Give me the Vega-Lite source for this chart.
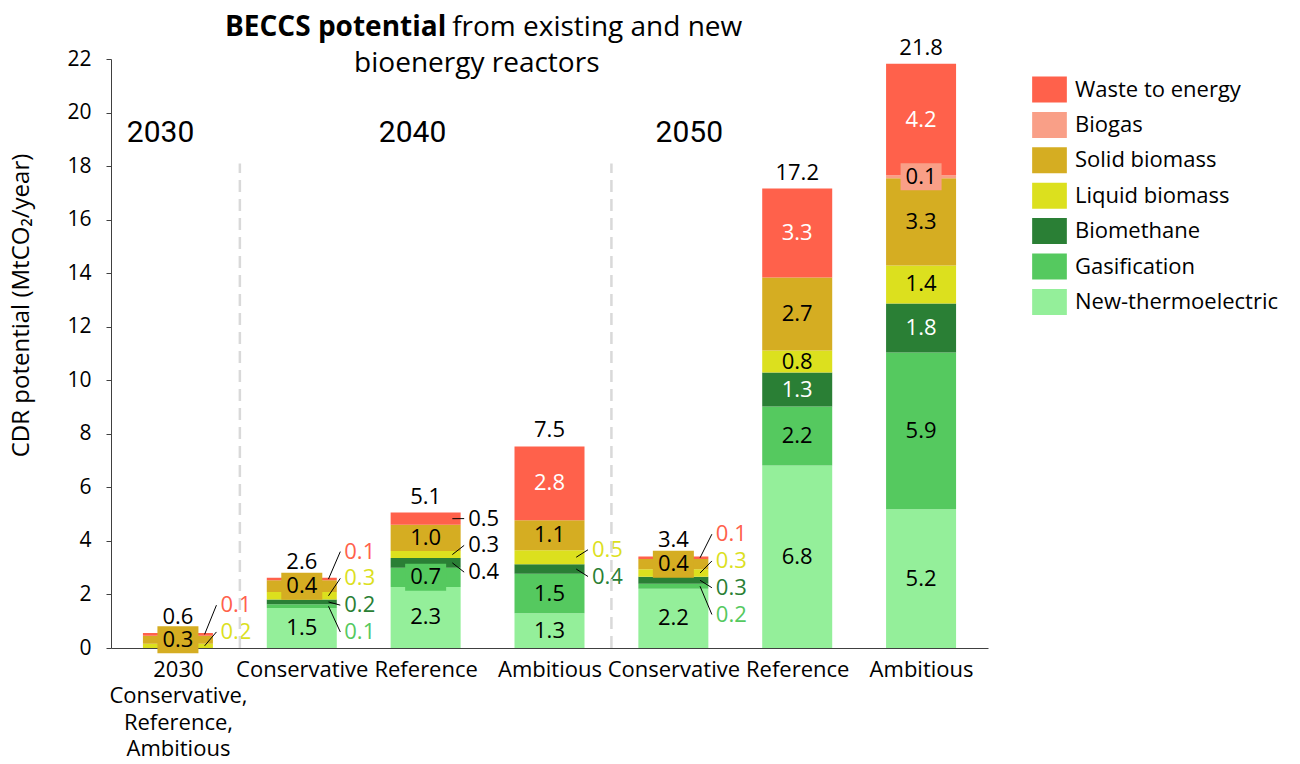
{
  "$schema": "https://vega.github.io/schema/vega-lite/v6.json",
  "width": 877,
  "height": 589,
  "autosize": {"type": "none"},
  "padding": {"left": 111, "top": 59, "right": 312, "bottom": 116},
  "background": "white",
  "config": {
    "font": "Open Sans",
    "view": {"stroke": null},
    "text": {"font": "Open Sans"}
  },
  "data": {
    "values": [
      {"idx": 0, "year": "2030", "scenario": "All", "series": "Liquid biomass", "value": 0.16, "lab": "out"},
      {"idx": 0, "year": "2030", "scenario": "All", "series": "Solid biomass", "value": 0.30, "lab": "in"},
      {"idx": 0, "year": "2030", "scenario": "All", "series": "Waste to energy", "value": 0.10, "lab": "out"},
      {"idx": 1, "year": "2040", "scenario": "Conservative", "series": "New-thermoelectric", "value": 1.49, "lab": "in"},
      {"idx": 1, "year": "2040", "scenario": "Conservative", "series": "Gasification", "value": 0.14, "lab": "out"},
      {"idx": 1, "year": "2040", "scenario": "Conservative", "series": "Biomethane", "value": 0.18, "lab": "out"},
      {"idx": 1, "year": "2040", "scenario": "Conservative", "series": "Liquid biomass", "value": 0.28, "lab": "out"},
      {"idx": 1, "year": "2040", "scenario": "Conservative", "series": "Solid biomass", "value": 0.44, "lab": "in"},
      {"idx": 1, "year": "2040", "scenario": "Conservative", "series": "Waste to energy", "value": 0.09, "lab": "out"},
      {"idx": 2, "year": "2040", "scenario": "Reference", "series": "New-thermoelectric", "value": 2.28, "lab": "in"},
      {"idx": 2, "year": "2040", "scenario": "Reference", "series": "Gasification", "value": 0.72, "lab": "in"},
      {"idx": 2, "year": "2040", "scenario": "Reference", "series": "Biomethane", "value": 0.36, "lab": "out"},
      {"idx": 2, "year": "2040", "scenario": "Reference", "series": "Liquid biomass", "value": 0.26, "lab": "out"},
      {"idx": 2, "year": "2040", "scenario": "Reference", "series": "Solid biomass", "value": 0.98, "lab": "in"},
      {"idx": 2, "year": "2040", "scenario": "Reference", "series": "Waste to energy", "value": 0.46, "lab": "out"},
      {"idx": 3, "year": "2040", "scenario": "Ambitious", "series": "New-thermoelectric", "value": 1.30, "lab": "in"},
      {"idx": 3, "year": "2040", "scenario": "Ambitious", "series": "Gasification", "value": 1.47, "lab": "in"},
      {"idx": 3, "year": "2040", "scenario": "Ambitious", "series": "Biomethane", "value": 0.36, "lab": "out"},
      {"idx": 3, "year": "2040", "scenario": "Ambitious", "series": "Liquid biomass", "value": 0.52, "lab": "out"},
      {"idx": 3, "year": "2040", "scenario": "Ambitious", "series": "Solid biomass", "value": 1.12, "lab": "in"},
      {"idx": 3, "year": "2040", "scenario": "Ambitious", "series": "Waste to energy", "value": 2.76, "lab": "in"},
      {"idx": 4, "year": "2050", "scenario": "Conservative", "series": "New-thermoelectric", "value": 2.21, "lab": "in"},
      {"idx": 4, "year": "2050", "scenario": "Conservative", "series": "Gasification", "value": 0.19, "lab": "out"},
      {"idx": 4, "year": "2050", "scenario": "Conservative", "series": "Biomethane", "value": 0.26, "lab": "out"},
      {"idx": 4, "year": "2050", "scenario": "Conservative", "series": "Liquid biomass", "value": 0.28, "lab": "out"},
      {"idx": 4, "year": "2050", "scenario": "Conservative", "series": "Solid biomass", "value": 0.38, "lab": "in"},
      {"idx": 4, "year": "2050", "scenario": "Conservative", "series": "Waste to energy", "value": 0.10, "lab": "out"},
      {"idx": 5, "year": "2050", "scenario": "Reference", "series": "New-thermoelectric", "value": 6.82, "lab": "in"},
      {"idx": 5, "year": "2050", "scenario": "Reference", "series": "Gasification", "value": 2.20, "lab": "in"},
      {"idx": 5, "year": "2050", "scenario": "Reference", "series": "Biomethane", "value": 1.27, "lab": "in"},
      {"idx": 5, "year": "2050", "scenario": "Reference", "series": "Liquid biomass", "value": 0.82, "lab": "in"},
      {"idx": 5, "year": "2050", "scenario": "Reference", "series": "Solid biomass", "value": 2.73, "lab": "in"},
      {"idx": 5, "year": "2050", "scenario": "Reference", "series": "Waste to energy", "value": 3.32, "lab": "in"},
      {"idx": 6, "year": "2050", "scenario": "Ambitious", "series": "New-thermoelectric", "value": 5.18, "lab": "in"},
      {"idx": 6, "year": "2050", "scenario": "Ambitious", "series": "Gasification", "value": 5.86, "lab": "in"},
      {"idx": 6, "year": "2050", "scenario": "Ambitious", "series": "Biomethane", "value": 1.83, "lab": "in"},
      {"idx": 6, "year": "2050", "scenario": "Ambitious", "series": "Liquid biomass", "value": 1.42, "lab": "in"},
      {"idx": 6, "year": "2050", "scenario": "Ambitious", "series": "Solid biomass", "value": 3.26, "lab": "in"},
      {"idx": 6, "year": "2050", "scenario": "Ambitious", "series": "Biogas", "value": 0.11, "lab": "in"},
      {"idx": 6, "year": "2050", "scenario": "Ambitious", "series": "Waste to energy", "value": 4.16, "lab": "in"}
    ]
  },
  "transform": [
    {"calculate": "indexof(['New-thermoelectric','Gasification','Biomethane','Liquid biomass','Solid biomass','Biogas','Waste to energy'], datum.series)", "as": "k"},
    {"stack": "value", "groupby": ["idx"], "sort": [{"field": "k", "order": "ascending"}], "as": ["y0", "y1"]},
    {"calculate": "(datum.y0 + datum.y1) / 2", "as": "mid"}
  ],
  "layer": [
    {
      "mark": {"type": "bar", "width": 70, "strokeWidth": 0},
      "encoding": {
        "x": {
          "field": "idx", "type": "quantitative", "title": null,
          "scale": {"domain": [-0.5, 6.5], "nice": false, "zero": false},
          "axis": {
            "values": [0, 1, 2, 3, 4, 5, 6],
            "labelExpr": "datum.value == 0 ? ['2030', 'Conservative,', 'Reference,', 'Ambitious'] : ['Conservative', 'Reference', 'Ambitious'][(datum.value - 1) % 3]",
            "title": null, "grid": false, "ticks": false, "tickSize": 0,
            "domainColor": "#404040", "domainWidth": 1,
            "labelFont": "Open Sans", "labelFontSize": 22, "labelColor": "black",
            "labelPadding": 11, "labelLineHeight": 26.5,
            "labelOverlap": false, "labelFlush": false, "labelBound": false
          }
        },
        "y": {
          "field": "y1", "type": "quantitative", "title": "CDR potential (MtCO\u2082/year)",
          "scale": {"domain": [0, 22], "nice": false},
          "axis": {
            "values": [0, 2, 4, 6, 8, 10, 12, 14, 16, 18, 20, 22],
            "title": "CDR potential (MtCO\u2082/year)",
            "grid": false, "tickSize": 5, "tickColor": "#404040", "domainColor": "#404040",
            "labelFont": "Open Sans", "labelFontSize": 21, "labelColor": "black", "labelPadding": 15,
            "titleFont": "Open Sans", "titleFontSize": 24, "titleFontWeight": "normal", "titleColor": "black",
            "titleAngle": -90, "titleX": -83, "titleY": 246, "titleAlign": "center", "titleBaseline": "alphabetic"
          }
        },
        "y2": {"field": "y0"},
        "color": {
          "field": "series", "type": "nominal",
          "scale": {
            "domain": ["Waste to energy", "Biogas", "Solid biomass", "Liquid biomass", "Biomethane", "Gasification", "New-thermoelectric"],
            "range": ["#FF614B", "#F99F87", "#D5AD22", "#DCE01E", "#2A7F35", "#55C95F", "#94EF9A"]
          },
          "legend": {
            "orient": "none", "legendX": 921, "legendY": 13, "title": null,
            "symbolType": "M-1,-0.75H1V0.75H-1Z", "symbolSize": 1204, "symbolStrokeWidth": 0, "symbolOpacity": 1,
            "labelFont": "Open Sans", "labelFontSize": 22, "labelColor": "black", "labelOffset": 8, "labelLimit": 400,
            "rowPadding": 4.4, "padding": 0
          }
        }
      }
    },
    {
      "transform": [{"filter": "datum.lab == 'in' && datum.value < 0.75"}],
      "mark": {"type": "point", "shape": "M-1,-0.66H1V0.66H-1Z", "filled": true, "opacity": 1, "size": 1681, "strokeWidth": 0},
      "encoding": {
        "x": {"field": "idx", "type": "quantitative", "title": null},
        "y": {"field": "mid", "type": "quantitative", "title": "CDR potential (MtCO\u2082/year)"},
        "color": {"field": "series", "type": "nominal", "legend": null}
      }
    },
    {
      "transform": [{"filter": "datum.lab == 'in'"}],
      "mark": {"type": "text", "fontSize": 22, "baseline": "middle", "align": "center"},
      "encoding": {
        "x": {"field": "idx", "type": "quantitative", "title": null},
        "y": {"field": "mid", "type": "quantitative", "title": "CDR potential (MtCO\u2082/year)"},
        "text": {"field": "value", "type": "quantitative", "format": ".1f"},
        "color": {"condition": {"test": "datum.series == 'Waste to energy' || datum.series == 'Biomethane'", "value": "white"}, "value": "black"}
      }
    },
    {
      "transform": [{"aggregate": [{"op": "sum", "field": "value", "as": "tot"}], "groupby": ["idx"]}],
      "mark": {"type": "text", "fontSize": 22, "baseline": "alphabetic", "align": "center", "dy": -9, "color": "black"},
      "encoding": {
        "x": {"field": "idx", "type": "quantitative", "title": null},
        "y": {"field": "tot", "type": "quantitative", "title": "CDR potential (MtCO\u2082/year)"},
        "text": {"field": "tot", "type": "quantitative", "format": ".1f"}
      }
    },
    {
      "transform": [
        {"filter": "datum.lab == 'out'"},
        {"joinaggregate": [{"op": "mean", "field": "mid", "as": "m"}, {"op": "count", "as": "n"}], "groupby": ["idx"]},
        {"window": [{"op": "row_number", "as": "r"}], "sort": [{"field": "mid", "order": "descending"}], "groupby": ["idx"]},
        {"calculate": "max(0, 0.6 - (datum.m - (datum.n - 1) / 2))", "as": "sh"},
        {"calculate": "datum.m + ((datum.n - 1) / 2 - (datum.r - 1)) + datum.sh", "as": "ly"},
        {"calculate": "datum.idx + 0.2155", "as": "xa"},
        {"calculate": "datum.idx + 0.311", "as": "xb"}
      ],
      "mark": {"type": "rule", "color": "black", "strokeWidth": 1},
      "encoding": {
        "x": {"field": "xa", "type": "quantitative", "title": null},
        "x2": {"field": "xb"},
        "y": {"field": "mid", "type": "quantitative", "title": "CDR potential (MtCO\u2082/year)"},
        "y2": {"field": "ly"}
      }
    },
    {
      "transform": [
        {"filter": "datum.lab == 'out'"},
        {"joinaggregate": [{"op": "mean", "field": "mid", "as": "m"}, {"op": "count", "as": "n"}], "groupby": ["idx"]},
        {"window": [{"op": "row_number", "as": "r"}], "sort": [{"field": "mid", "order": "descending"}], "groupby": ["idx"]},
        {"calculate": "max(0, 0.6 - (datum.m - (datum.n - 1) / 2))", "as": "sh"},
        {"calculate": "datum.m + ((datum.n - 1) / 2 - (datum.r - 1)) + datum.sh", "as": "ly"}
      ],
      "mark": {"type": "text", "fontSize": 22, "baseline": "middle", "align": "left", "dx": 42.5},
      "encoding": {
        "x": {"field": "idx", "type": "quantitative", "title": null},
        "y": {"field": "ly", "type": "quantitative", "title": "CDR potential (MtCO\u2082/year)"},
        "text": {"field": "value", "type": "quantitative", "format": ".1f"},
        "color": {"condition": {"test": "datum.idx == 2", "value": "black"}, "field": "series", "type": "nominal", "legend": null}
      }
    },
    {
      "transform": [
        {"aggregate": [{"op": "min", "field": "idx", "as": "first"}], "groupby": ["year"]},
        {"filter": "datum.first > 0"},
        {"calculate": "datum.first - 0.5", "as": "sx"}
      ],
      "mark": {"type": "rule", "color": "#D9D9D9", "strokeWidth": 2.5, "strokeDash": [12, 7]},
      "encoding": {
        "x": {"field": "sx", "type": "quantitative", "title": null},
        "y": {"datum": 0, "type": "quantitative"},
        "y2": {"datum": 18.1}
      }
    },
    {
      "data": {"values": [{"label": "2030"}]},
      "mark": {"type": "text", "font": "Roboto", "fontSize": 30, "baseline": "middle", "align": "center", "color": "black"},
      "encoding": {
        "x": {"datum": -0.14, "type": "quantitative"},
        "y": {"datum": 19.22, "type": "quantitative"},
        "text": {"field": "label"}
      }
    },
    {
      "data": {"values": [{"label": "2040"}]},
      "mark": {"type": "text", "font": "Roboto", "fontSize": 30, "baseline": "middle", "align": "center", "color": "black"},
      "encoding": {
        "x": {"datum": 1.894, "type": "quantitative"},
        "y": {"datum": 19.22, "type": "quantitative"},
        "text": {"field": "label"}
      }
    },
    {
      "data": {"values": [{"label": "2050"}]},
      "mark": {"type": "text", "font": "Roboto", "fontSize": 30, "baseline": "middle", "align": "center", "color": "black"},
      "encoding": {
        "x": {"datum": 4.129, "type": "quantitative"},
        "y": {"datum": 19.22, "type": "quantitative"},
        "text": {"field": "label"}
      }
    },
    {
      "data": {"values": [{"label": "BECCS potential"}]},
      "mark": {"type": "text", "fontSize": 28, "fontWeight": "bold", "baseline": "middle", "align": "right", "color": "black"},
      "encoding": {
        "x": {"datum": 2.166, "type": "quantitative"},
        "y": {"datum": 23.17, "type": "quantitative"},
        "text": {"field": "label"}
      }
    },
    {
      "data": {"values": [{"label": "from existing and new"}]},
      "mark": {"type": "text", "fontSize": 28, "baseline": "middle", "align": "left", "color": "black"},
      "encoding": {
        "x": {"datum": 2.214, "type": "quantitative"},
        "y": {"datum": 23.17, "type": "quantitative"},
        "text": {"field": "label"}
      }
    },
    {
      "data": {"values": [{"label": "bioenergy reactors"}]},
      "mark": {"type": "text", "fontSize": 28, "baseline": "middle", "align": "center", "color": "black"},
      "encoding": {
        "x": {"datum": 2.413, "type": "quantitative"},
        "y": {"datum": 21.8, "type": "quantitative"},
        "text": {"field": "label"}
      }
    }
  ]
}
